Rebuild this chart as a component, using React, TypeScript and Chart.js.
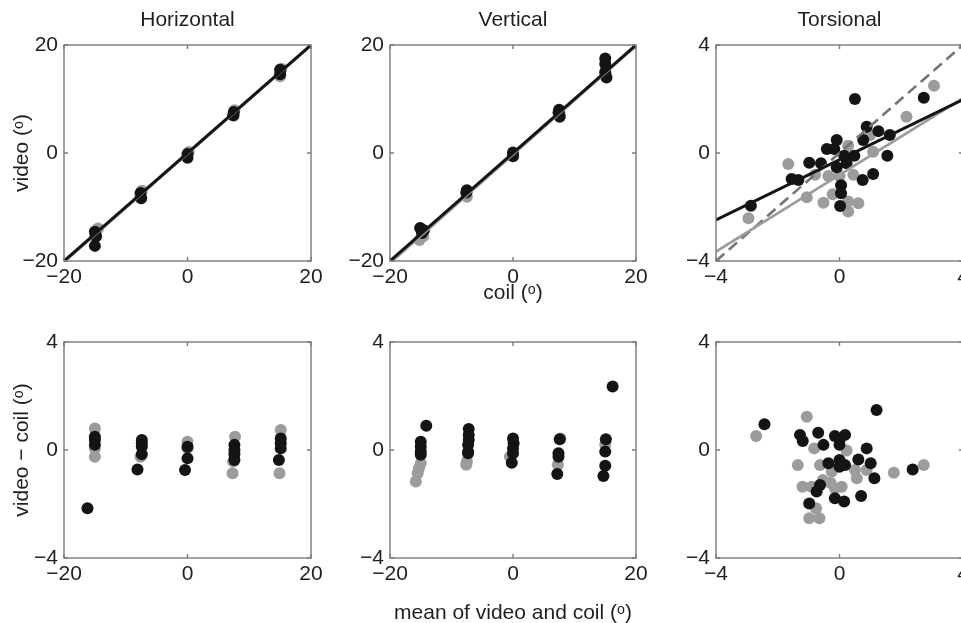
import React, { useEffect, useRef } from 'react';
import { Chart, registerables } from 'chart.js';

Chart.register(...registerables);

// ---------- tick values ----------
const ticksDeg20 = [-20, 0, 20];
const ticksDeg4 = [-4, 0, 4];

// ---------- Panel 1: Horizontal, video vs coil ----------
const hTopBlackX = [-15, -15, -14.8, -7.6, -7.5, 0, 0, 7.5, 7.4, 15, 15];
const hTopBlackY = [-14.6, -17.2, -15.4, -7.4, -8.4, -0.2, -0.9, 7.6, 7.0, 15.4, 14.6];
const hTopGrayX = [-14.5, -15, -7.4, -7.6, 0.2, 7.6, 7.5, 15.2, 15];
const hTopGrayY = [-14.0, -15.5, -7.0, -8.0, 0.2, 7.9, 6.9, 15.6, 14.2];
const hFitBlackX = [-20, 20];
const hFitBlackY = [-20, 20];
const hFitGrayX = [-20, 20];
const hFitGrayY = [-20.2, 19.9];

// ---------- Panel 2: Vertical, video vs coil ----------
const vTopBlackX = [-15.1, -14.8, -14.5, -7.5, -7.6, 0, 0, 7.5, 7.6, 7.4, 15, 15, 15.2, 15];
const vTopBlackY = [-13.9, -14.8, -14.3, -6.9, -7.3, 0.1, -0.6, 8.0, 6.7, 7.5, 17.5, 14.9, 14.0, 16.5];
const vTopGrayX = [-15.2, -14.6, -7.5, 0, 7.6, 15];
const vTopGrayY = [-16.1, -15.4, -8.1, -0.2, 7.2, 15.2];
const vFitBlackX = [-20, 20];
const vFitBlackY = [-20, 20];
const vFitGrayX = [-20, 20];
const vFitGrayY = [-20.4, 19.8];

// ---------- Panel 3: Torsional, video vs coil ----------
const tTopBlackX = [-2.87, 0.5, 2.73, 0.88, 1.26, 1.63, 0.77, -0.09, -0.41, -0.17, -0.98, -0.6, 0.15, 0.48, 0.23, -0.09, 1.55, -1.55, -1.33, 0.75, 1.09, 0.05, 0.05, 0.02];
const tTopBlackY = [-1.95, 2.0, 2.05, 0.97, 0.81, 0.67, 0.48, 0.48, 0.15, 0.15, -0.36, -0.38, -0.1, -0.1, -0.38, -0.53, -0.1, -0.96, -1.0, -1.0, -0.78, -1.19, -1.49, -1.96];
const tTopGrayX = [-2.95, -1.66, -1.06, -0.52, -0.22, 0.28, 0.61, 0.28, -0.36, 0.0, 0.45, 0.28, 0.99, 1.09, 2.17, 3.06, -0.79];
const tTopGrayY = [-2.42, -0.41, -1.64, -1.84, -1.53, -2.17, -1.86, -1.8, -0.85, -0.85, -0.81, 0.27, 0.67, 0.05, 1.34, 2.49, -0.81];
const tFitBlackX = [-4, 4];
const tFitBlackY = [-2.48, 1.98];
const tFitGrayX = [-4, 4];
const tFitGrayY = [-3.65, 2.03];
const tUnityX = [-4, 4];
const tUnityY = [-4, 4];

// ---------- Panel 4: Horizontal, difference vs mean ----------
const hDiffBlackX = [-15, -15, -15, -16.2, -7.4, -7.4, -7.4, -7.4, -8.1, 0, 0, -0.4, 7.6, 7.6, 7.6, 7.6, 15.1, 15.1, 15.1, 14.8];
const hDiffBlackY = [0.49, 0.37, 0.19, -2.16, 0.37, 0.25, 0.12, -0.16, -0.72, 0.12, -0.31, -0.74, 0.19, 0, -0.16, -0.37, 0.43, 0.25, 0.06, -0.37];
const hDiffGrayX = [-15, -15, -15, -7.6, 0, 0, 7.7, 7.4, 7.3, 15.1, 14.9];
const hDiffGrayY = [0.8, 0.06, -0.25, -0.25, 0.31, 0.06, 0.49, -0.43, -0.86, 0.74, -0.86];

// ---------- Panel 5: Vertical, difference vs mean ----------
const vDiffBlackX = [-14.1, -15.0, -15.0, -15.0, -15.0, -7.2, -7.2, -7.2, -7.3, -7.3, -7.3, 0, 0.1, 0, 0, -0.2, 7.6, 7.4, 7.4, 7.2, 15.1, 15, 15, 14.7, 16.2];
const vDiffBlackY = [0.9, 0.31, 0.12, -0.06, -0.18, 0.78, 0.56, 0.37, 0.19, -0.06, -0.12, 0.43, 0.25, 0.06, -0.12, -0.47, 0.4, -0.12, -0.25, -0.89, 0.4, -0.06, -0.58, -0.96, 2.35];
const vDiffGrayX = [-15.0, -15.3, -15.5, -15.8, -7.5, -7.6, -0.5, 7.7, 7.3, 15.0];
const vDiffGrayY = [-0.49, -0.68, -0.86, -1.17, -0.43, -0.55, -0.25, 0.43, -0.55, 0.2];

// ---------- Panel 6: Torsional, difference vs mean ----------
const tDiffBlackX = [-2.43, -1.28, -1.19, -0.69, -0.52, -0.15, 0.18, 0, 0, 1.2, 0.88, 0.61, 1.01, 1.13, 2.37, -0.36, 0, 0.18, 0, -0.63, -0.74, -0.98, -0.15, 0.15, 0.7];
const tDiffBlackY = [0.95, 0.56, 0.33, 0.64, 0.19, 0.52, 0.56, 0.37, 0.19, 1.48, 0.06, -0.35, -0.49, -1.05, -0.72, -0.49, -0.37, -0.56, -0.62, -1.3, -1.54, -1.98, -1.79, -1.91, -1.7];
const tDiffGrayX = [-2.7, -1.06, -0.82, 0.23, -1.35, -0.63, -0.25, 0.5, 0.56, 0.88, 1.76, 2.73, -1.2, -0.91, -0.54, -0.29, -0.15, -0.76, -0.98, -0.65, 0.07];
const tDiffGrayY = [0.52, 1.23, 0.06, -0.02, -0.56, -0.56, -0.8, -0.74, -1.05, -0.74, -0.84, -0.56, -1.36, -1.36, -1.11, -1.21, -1.42, -2.16, -2.53, -2.53, -1.36];

// ---------- styling ----------
const FONT = "'Liberation Sans', Arial, Helvetica, sans-serif";
const TEXT = '#1f1f1f';
const AXIS = '#7b7b7b';
const BLACK = '#141414';
const GRAY = '#9c9c9c';
const FS = 21;

const pts = (xs: number[], ys: number[]) => xs.map((x, i) => ({ x, y: ys[i] }));
const fmt = (v: number) => (v < 0 ? '\u2212' + Math.abs(v) : String(v));

const boxPlugin = {
  id: 'matlabBox',
  afterDraw(chart: any) {
    const { ctx, chartArea } = chart;
    const { left, top, right, bottom } = chartArea;
    ctx.save();
    ctx.strokeStyle = AXIS;
    ctx.lineWidth = 1.4;
    ctx.strokeRect(left, top, right - left, bottom - top);
    const tl = 4;
    const xs = chart.scales.x;
    const ys = chart.scales.y;
    ctx.beginPath();
    xs.ticks.forEach((t: any) => {
      const p = xs.getPixelForValue(t.value);
      ctx.moveTo(p, bottom); ctx.lineTo(p, bottom - tl);
      ctx.moveTo(p, top); ctx.lineTo(p, top + tl);
    });
    ys.ticks.forEach((t: any) => {
      const p = ys.getPixelForValue(t.value);
      ctx.moveTo(left, p); ctx.lineTo(left + tl, p);
      ctx.moveTo(right, p); ctx.lineTo(right - tl, p);
    });
    ctx.stroke();
    ctx.restore();
  },
};

type PanelCfg = {
  plotLeft: number; plotTop: number; plotW: number; plotH: number;
  bottomH: number; title?: string; xTitle?: string; xTitlePad?: number; yTitle?: string;
  ticks: number[]; yTicks: number[];
  datasets: any[];
};

const L = 64, R = 24, T = 40;

function lineDs(xs: number[], ys: number[], color: string, width: number, dash: number[] = []) {
  return { data: pts(xs, ys), showLine: true, borderColor: color, borderWidth: width, borderDash: dash, pointRadius: 0, fill: false };
}
function dotDs(xs: number[], ys: number[], color: string) {
  return { data: pts(xs, ys), showLine: false, backgroundColor: color, borderWidth: 0, pointRadius: 6, pointHoverRadius: 6 };
}

function Panel({ cfg }: { cfg: PanelCfg }) {
  const ref = useRef<HTMLCanvasElement>(null);
  const w = L + cfg.plotW + R;
  const h = T + cfg.plotH + cfg.bottomH;
  useEffect(() => {
    const tickOpts = () => ({
      autoSkip: false, maxRotation: 0, minRotation: 0,
      color: TEXT, font: { family: FONT, size: FS },
      callback: (v: any) => fmt(Number(v)),
    });
    const chart = new Chart(ref.current!, {
      type: 'scatter',
      data: { datasets: cfg.datasets },
      plugins: [boxPlugin],
      options: {
        animation: false,
        responsive: false,
        devicePixelRatio: 1,
        layout: { padding: { left: 0, right: R, top: cfg.title ? 0 : T, bottom: 0 } },
        plugins: {
          legend: { display: false },
          tooltip: { enabled: false },
          title: cfg.title
            ? { display: true, text: cfg.title, fullSize: false, color: TEXT, font: { family: FONT, size: FS, weight: 'normal', lineHeight: 1.2 }, padding: { top: 3, bottom: 11.8 } }
            : { display: false },
        },
        scales: {
          x: {
            type: 'linear', min: cfg.ticks[0], max: cfg.ticks[cfg.ticks.length - 1],
            grid: { display: false, drawTicks: false }, border: { display: false },
            ticks: { ...tickOpts(), padding: 4 },
            afterBuildTicks: (s: any) => { s.ticks = cfg.ticks.map((v) => ({ value: v })); },
            afterFit: (s: any) => { s.height = cfg.bottomH; },
            title: cfg.xTitle
              ? { display: true, text: cfg.xTitle, color: TEXT, font: { family: FONT, size: FS, lineHeight: 1.2 }, padding: { top: 0, bottom: cfg.xTitlePad ?? 0 } }
              : { display: false },
          },
          y: {
            type: 'linear', min: cfg.yTicks[0], max: cfg.yTicks[cfg.yTicks.length - 1],
            grid: { display: false, drawTicks: false }, border: { display: false },
            ticks: { ...tickOpts(), padding: 6 },
            afterBuildTicks: (s: any) => { s.ticks = cfg.yTicks.map((v) => ({ value: v })); },
            afterFit: (s: any) => { s.width = L; },
            title: cfg.yTitle
              ? { display: true, text: cfg.yTitle, color: TEXT, font: { family: FONT, size: FS, lineHeight: 1.2 }, padding: { top: 10, bottom: 0 } }
              : { display: false },
          },
        },
      } as any,
    });
    return () => chart.destroy();
  }, []);
  return (
    <canvas
      ref={ref}
      width={w}
      height={h}
      style={{ position: 'absolute', left: cfg.plotLeft - L, top: cfg.plotTop - T, width: w, height: h }}
    />
  );
}

const colLeft = [64, 390, 716];
const colW = [247, 246, 247];
const rowTop = [45, 342];
const plotH = 216;

const panels: PanelCfg[] = [
  {
    plotLeft: colLeft[0], plotTop: rowTop[0], plotW: colW[0], plotH, bottomH: 50,
    title: 'Horizontal', yTitle: 'video (\u1D52)', ticks: ticksDeg20, yTicks: ticksDeg20,
    datasets: [
      lineDs(hFitBlackX, hFitBlackY, BLACK, 3),
      lineDs(hFitGrayX, hFitGrayY, GRAY, 2.6),
      dotDs(hTopBlackX, hTopBlackY, BLACK),
      dotDs(hTopGrayX, hTopGrayY, GRAY),
    ],
  },
  {
    plotLeft: colLeft[1], plotTop: rowTop[0], plotW: colW[1], plotH, bottomH: 50,
    title: 'Vertical', xTitle: 'coil (\u1D52)', xTitlePad: 5.4, ticks: ticksDeg20, yTicks: ticksDeg20,
    datasets: [
      lineDs(vFitBlackX, vFitBlackY, BLACK, 3),
      lineDs(vFitGrayX, vFitGrayY, GRAY, 2.6),
      dotDs(vTopBlackX, vTopBlackY, BLACK),
      dotDs(vTopGrayX, vTopGrayY, GRAY),
    ],
  },
  {
    plotLeft: colLeft[2], plotTop: rowTop[0], plotW: colW[2], plotH, bottomH: 50,
    title: 'Torsional', ticks: ticksDeg4, yTicks: ticksDeg4,
    datasets: [
      lineDs(tFitBlackX, tFitBlackY, BLACK, 3),
      lineDs(tFitGrayX, tFitGrayY, GRAY, 2.6),
      lineDs(tUnityX, tUnityY, '#747474', 2.6, [11, 6]),
      dotDs(tTopBlackX, tTopBlackY, BLACK),
      dotDs(tTopGrayX, tTopGrayY, GRAY),
    ],
  },
  {
    plotLeft: colLeft[0], plotTop: rowTop[1], plotW: colW[0], plotH, bottomH: 70,
    yTitle: 'video \u2212 coil (\u1D52)', ticks: ticksDeg20, yTicks: ticksDeg4,
    datasets: [dotDs(hDiffBlackX, hDiffBlackY, BLACK), dotDs(hDiffGrayX, hDiffGrayY, GRAY)],
  },
  {
    plotLeft: colLeft[1], plotTop: rowTop[1], plotW: colW[1], plotH, bottomH: 70,
    xTitle: 'mean of video and coil (\u1D52)', xTitlePad: 2, ticks: ticksDeg20, yTicks: ticksDeg4,
    datasets: [dotDs(vDiffBlackX, vDiffBlackY, BLACK), dotDs(vDiffGrayX, vDiffGrayY, GRAY)],
  },
  {
    plotLeft: colLeft[2], plotTop: rowTop[1], plotW: colW[2], plotH, bottomH: 70,
    ticks: ticksDeg4, yTicks: ticksDeg4,
    datasets: [dotDs(tDiffBlackX, tDiffBlackY, BLACK), dotDs(tDiffGrayX, tDiffGrayY, GRAY)],
  },
];

export default function App() {
  return (
    <div style={{ position: 'absolute', left: 0, top: 0, width: 961, height: 623, overflow: 'hidden', background: '#fff' }}>
      {panels.map((p, i) => (
        <Panel key={i} cfg={p} />
      ))}
    </div>
  );
}
